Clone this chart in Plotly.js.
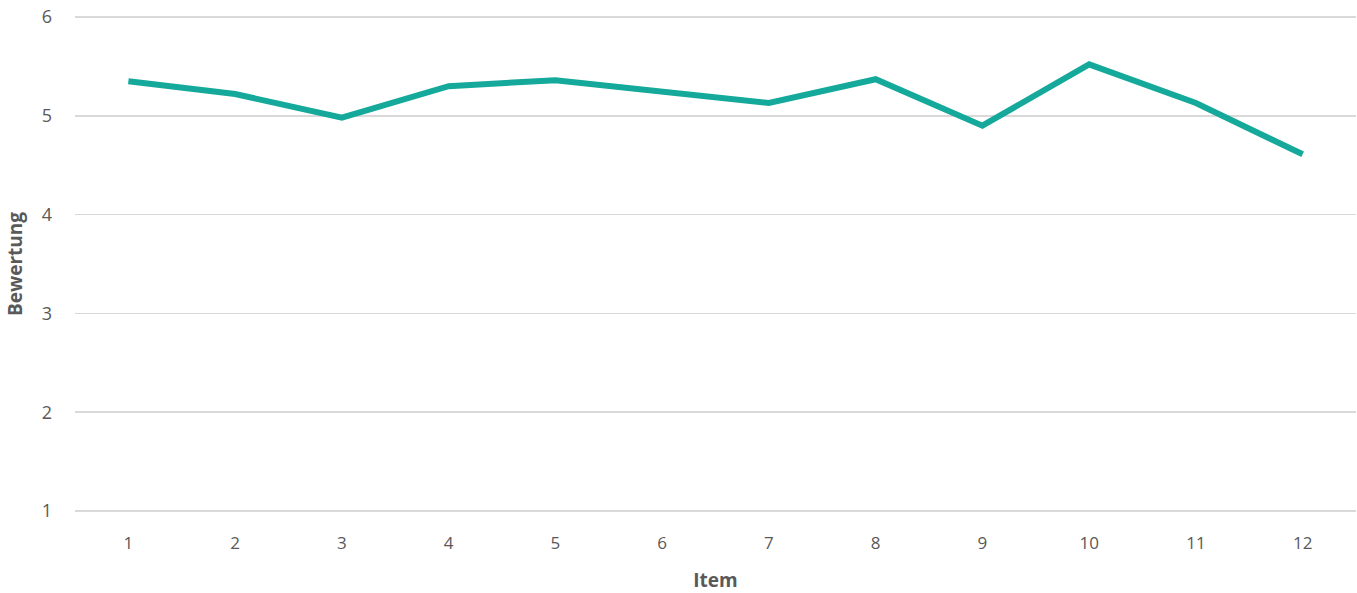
<!DOCTYPE html>
<html>
<head>
<meta charset="utf-8">
<script src="https://cdn.plot.ly/plotly-3.0.1.min.js"></script>
<style>html,body{margin:0;padding:0;background:#fff;}#chart{width:1357px;height:593px;}</style>
</head>
<body>
<div id="chart"></div>
<script>
const items = ['1','2','3','4','5','6','7','8','9','10','11','12'];
const ratings = [5.35, 5.22, 4.98, 5.30, 5.36, 5.24, 5.13, 5.37, 4.90, 5.52, 5.13, 4.61];
const yTicks = [1, 2, 3, 4, 5, 6];

const trace = {
  x: items,
  y: ratings,
  type: 'scatter',
  mode: 'lines',
  line: {color: '#14a99a', width: 6, shape: 'linear'},
  hoverinfo: 'x+y'
};

const layout = {
  width: 1357,
  height: 593,
  margin: {l: 75, r: 1, t: 13, b: 78},
  paper_bgcolor: '#ffffff',
  plot_bgcolor: '#ffffff',
  showlegend: false,
  font: {family: '"Open Sans", "Liberation Sans", sans-serif', color: '#595959', size: 17},
  xaxis: {
    type: 'category',
    title: {text: '<b>Item</b>', font: {size: 19, color: '#595959'}, standoff: 27},
    showgrid: false,
    zeroline: false,
    showline: false,
    ticks: '',
    ticklen: 0,
    tickfont: {size: 17, color: '#595959'},
    ticklabelstandoff: 16,
    range: [-0.5, 11.5]
  },
  yaxis: {
    title: {text: '<b>Bewertung</b>', font: {size: 19, color: '#595959'}, standoff: 14},
    range: [0.96, 6.04],
    tickvals: yTicks,
    ticktext: yTicks.map(String),
    showgrid: true,
    gridcolor: '#d9d9d9',
    gridwidth: 1.5,
    zeroline: false,
    showline: false,
    ticks: '',
    tickfont: {size: 18, color: '#595959'},
    ticklabelstandoff: 22
  }
};

Plotly.newPlot('chart', [trace], layout, {displayModeBar: false, staticPlot: true});
</script>
</body>
</html>
